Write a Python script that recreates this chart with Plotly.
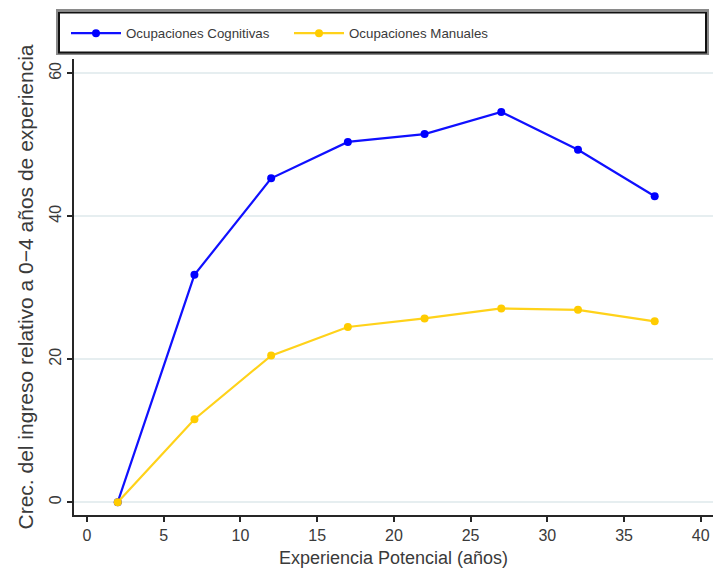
import plotly.graph_objects as go

experiencia = [2, 7, 12, 17, 22, 27, 32, 37]
cognitivas = [0.0, 31.8, 45.3, 50.4, 51.5, 54.6, 49.3, 42.8]
manuales = [0.0, 11.6, 20.5, 24.5, 25.7, 27.1, 26.9, 25.3]
series_names = ["Ocupaciones Cognitivas", "Ocupaciones Manuales"]
x_ticks = [0, 5, 10, 15, 20, 25, 30, 35, 40]
y_ticks = [0, 20, 40, 60]

FONT = "Liberation Sans, Arial, sans-serif"
AXIS_COLOR = "#262626"
GRID_COLOR = "#e6eef0"
TEXT_COLOR = "#3a3a3a"

# the page body adds an 8px offset; lay the figure out in page pixels
OFF = 8
PAGE_W, PAGE_H = 725, 569
W, H = PAGE_W - OFF, PAGE_H - OFF
PLOT_L, PLOT_R, PLOT_T, PLOT_B = 74, 713, 59, 515  # page pixels
ML, MR, MT, MB = PLOT_L - OFF, PAGE_W - PLOT_R, PLOT_T - OFF, PAGE_H - PLOT_B
PW, PH = PLOT_R - PLOT_L, PLOT_B - PLOT_T


def px_x(p):
    return (p - PLOT_L) / PW


def px_y(p):
    return (PLOT_B - p) / PH


fig = go.Figure()
fig.add_trace(go.Scatter(
    x=experiencia, y=cognitivas, name=series_names[0], mode="lines+markers",
    line=dict(color="#1010ff", width=2.2),
    marker=dict(color="#0000ff", size=8, symbol="circle"),
))
fig.add_trace(go.Scatter(
    x=experiencia, y=manuales, name=series_names[1], mode="lines+markers",
    line=dict(color="#ffd21a", width=2.2),
    marker=dict(color="#ffcc00", size=8, symbol="circle"),
))

# legend frame (style element)
fig.add_shape(type="rect", xref="paper", yref="paper", layer="above",
              x0=px_x(57), x1=px_x(708), y0=px_y(54), y1=px_y(10),
              line=dict(color="#8a8a8a", width=2), fillcolor="rgba(0,0,0,0)")
fig.add_shape(type="rect", xref="paper", yref="paper", layer="above",
              x0=px_x(59), x1=px_x(706), y0=px_y(52.5), y1=px_y(12.5),
              line=dict(color="#111111", width=2), fillcolor="rgba(0,0,0,0)")

fig.update_layout(
    width=W, height=H,
    margin=dict(l=ML, r=MR, t=MT, b=MB, autoexpand=False),
    paper_bgcolor="white", plot_bgcolor="white",
    font=dict(family=FONT, size=14, color=TEXT_COLOR),
    showlegend=True,
    legend=dict(
        orientation="h", x=px_x(66), xanchor="left", y=px_y(18), yanchor="top",
        bgcolor="rgba(0,0,0,0)", borderwidth=0,
        itemwidth=50, entrywidth=158,
        font=dict(family=FONT, size=13.3, color=TEXT_COLOR),
    ),
    xaxis=dict(
        range=[-0.85, 40.8], tickvals=x_ticks, ticktext=[str(v) for v in x_ticks],
        showgrid=False, zeroline=False,
        showline=True, linecolor=AXIS_COLOR, linewidth=2,
        ticks="outside", ticklen=5, tickwidth=2, tickcolor=AXIS_COLOR,
        tickfont=dict(family=FONT, size=16, color=TEXT_COLOR),
        title=dict(text="Experiencia Potencial (años)", standoff=8,
                   font=dict(family=FONT, size=18, color=TEXT_COLOR)),
        automargin=False,
    ),
    yaxis=dict(
        range=[-1.8, 62.0], tickvals=y_ticks, ticktext=[str(v) for v in y_ticks],
        showgrid=True, gridcolor=GRID_COLOR, gridwidth=2, zeroline=False,
        showline=True, linecolor=AXIS_COLOR, linewidth=2,
        ticks="outside", ticklen=5, tickwidth=2, tickcolor=AXIS_COLOR,
        tickangle=-90,
        tickfont=dict(family=FONT, size=16, color=TEXT_COLOR),
        title=dict(text="Crec. del ingreso relativo a 0−4 años de experiencia", standoff=7,
                   font=dict(family=FONT, size=21, color=TEXT_COLOR)),
        automargin=False,
    ),
)

fig.write_html("out.html")
